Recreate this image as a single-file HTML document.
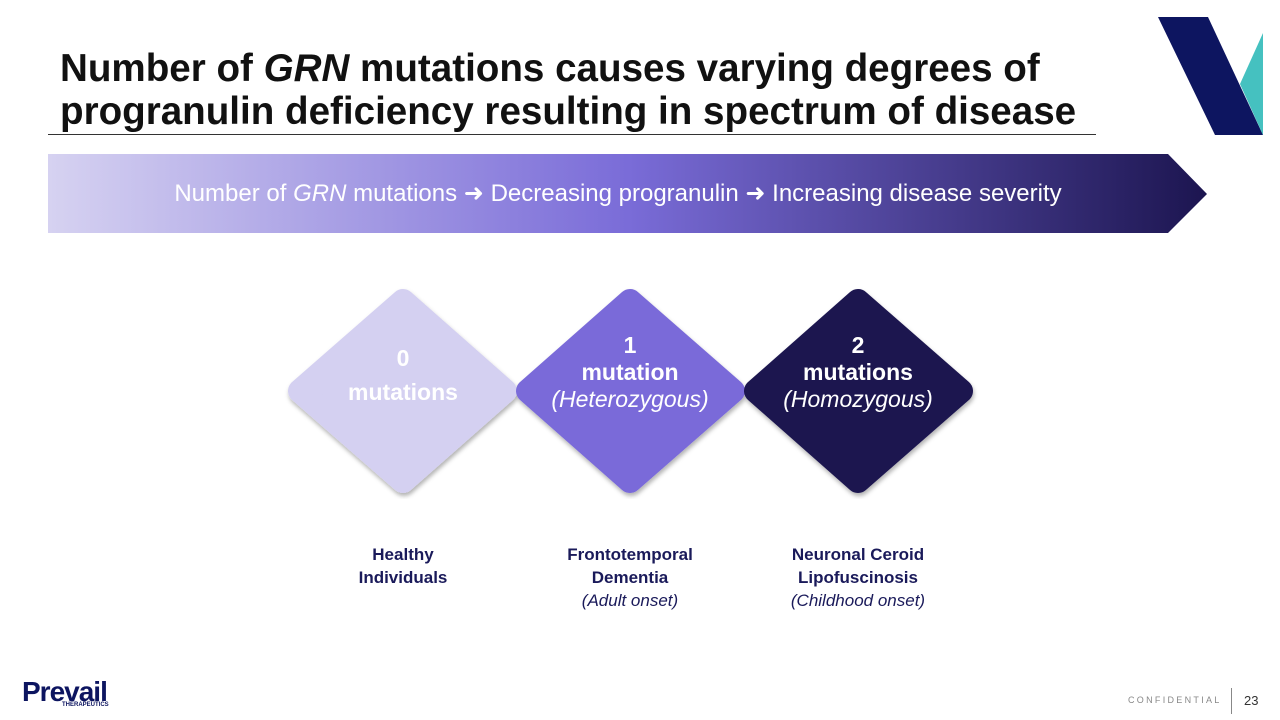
<!DOCTYPE html>
<html><head><style>
body{margin:0;width:1280px;height:720px;background:#fff;font-family:"Liberation Sans",sans-serif;position:relative;overflow:hidden}
.t{position:absolute;left:60px;top:47px;font-size:38.6px;font-weight:bold;color:#111;line-height:43px;white-space:nowrap}
.rule{position:absolute;left:48px;top:134px;width:1048px;height:1px;background:#333}
.lbl{position:absolute;text-align:center;color:#1a1a5a;font-size:17px;line-height:23px;width:200px}
.d{position:absolute;text-align:center;font-size:23px;line-height:27px;width:220px}
</style></head><body>
<div class="t">Number of <i>GRN</i> mutations causes varying degrees of<br>progranulin deficiency resulting in spectrum of disease</div>
<div class="rule"></div>
<svg width="1280" height="720" style="position:absolute;left:0;top:0">
<defs>
<linearGradient id="g" x1="0" x2="1"><stop offset="0" stop-color="#d6d2f1"/><stop offset="0.5" stop-color="#7a6cd8"/><stop offset="1" stop-color="#1c1550"/></linearGradient>
<filter id="s"><feDropShadow dx="1" dy="3" stdDeviation="2" flood-opacity="0.3"/></filter>
</defs>
<polygon points="1158,17 1208,17 1263,135 1215,135" fill="#0d1560"/>
<polygon points="1263,33 1263,135 1240,84" fill="#45c1c0"/>
<polygon points="48,154 1168,154 1207,194 1168,233 48,233" fill="url(#g)"/>
<g filter="url(#s)" stroke-linejoin="round" stroke-width="24">
<polygon points="403,301 505,391 403,481 300,391" fill="#d4d0f1" stroke="#d4d0f1"/>
<polygon points="630,301 733,391 630,481 528,391" fill="#7a6bd9" stroke="#7a6bd9"/>
<polygon points="858,301 961,391 858,481 756,391" fill="#1c1550" stroke="#1c1550"/>
</g>
</svg>
<div style="position:absolute;left:58px;width:1120px;top:179px;text-align:center;color:#fff;font-size:24px;white-space:nowrap">Number of <i>GRN</i> mutations ➜ Decreasing progranulin ➜ Increasing disease severity</div>
<div class="d" style="left:293px;top:341px;color:#fff;font-weight:bold;line-height:34px">0<br>mutations</div>
<div class="d" style="left:520px;top:332px;color:#fff"><b>1<br>mutation</b><br><i>(Heterozygous)</i></div>
<div class="d" style="left:748px;top:332px;color:#fff"><b>2<br>mutations</b><br><i>(Homozygous)</i></div>
<div class="lbl" style="left:303px;top:543px"><b>Healthy<br>Individuals</b></div>
<div class="lbl" style="left:530px;top:543px"><b>Frontotemporal<br>Dementia</b><br><i>(Adult onset)</i></div>
<div class="lbl" style="left:758px;top:543px"><b>Neuronal Ceroid<br>Lipofuscinosis</b><br><i>(Childhood onset)</i></div>
<div style="position:absolute;left:22px;top:676px;font-size:28px;font-weight:bold;color:#0d1560;letter-spacing:-1px">Prevail</div>
<div style="position:absolute;left:62px;top:702px;font-size:6px;font-weight:bold;color:#0d1560">THERAPEUTICS</div>
<div style="position:absolute;left:1128px;top:695px;font-size:9px;color:#888;letter-spacing:2.3px;white-space:nowrap">CONFIDENTIAL</div>
<div style="position:absolute;left:1231px;top:688px;width:1px;height:26px;background:#888"></div>
<div style="position:absolute;left:1244px;top:693px;font-size:13px;color:#333">23</div>
</body></html>
